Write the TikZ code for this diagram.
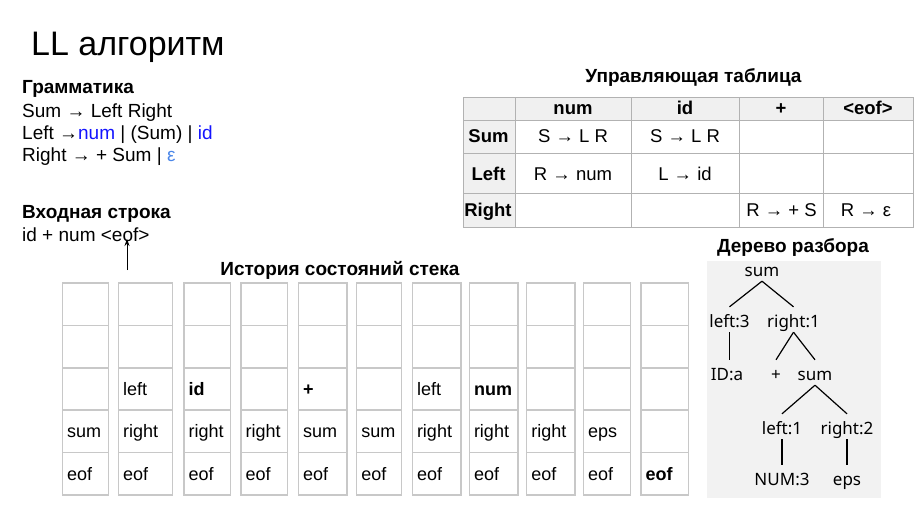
\documentclass[tikz,border=0pt]{standalone}
\usepackage{fontspec}
\setmainfont{Liberation Sans}
\newfontfamily\treefont{Noto Sans}
\usetikzlibrary{arrows.meta, positioning}
\definecolor{gramblue}{RGB}{20,20,255}
\definecolor{epsblue}{RGB}{74,134,232}
\definecolor{cellgray}{RGB}{240,240,240}
\definecolor{gridgray}{RGB}{178,178,178}
\definecolor{stackgray}{RGB}{200,200,200}
\definecolor{treebg}{RGB}{242,242,242}

\begin{document}
\begin{tikzpicture}[x=1pt, y=-1pt,
    txt/.style={anchor=base west, inner sep=0pt, font=\fontsize{19}{22}\selectfont},
    hdr/.style={anchor=base west, inner sep=0pt, font=\fontsize{19}{22}\selectfont\bfseries},
    ttl/.style={anchor=base, inner sep=0pt, font=\fontsize{19}{22}\selectfont\bfseries},
    tcell/.style={anchor=base, inner sep=0pt, font=\fontsize{18.5}{22}\selectfont},
    thead/.style={tcell, font=\fontsize{18.5}{22}\selectfont\bfseries},
    scell/.style={anchor=base west, inner sep=0pt, font=\fontsize{18}{22}\selectfont},
    tnode/.style={anchor=base, inner sep=0pt, text height=20pt, text depth=5pt, font=\treefont\fontsize{17}{20}\selectfont},
    tedge/.style={line width=1.2pt}]
\useasboundingbox (0,0) rectangle (921,506);

\node[anchor=base west, inner sep=0pt, font=\fontsize{34}{40}\selectfont] (title) at (31,55) {LL алгоритм};

\node[hdr] (gram) at (22,93) {Грамматика};
\node[txt] (rule1) at (22,117) {Sum → Left Right};
\node[txt] (rule2) at (22,139) {Left →\textcolor{gramblue}{num} | (Sum) | \textcolor{gramblue}{id}};
\node[txt] (rule3) at (22,161) {Right → + Sum | \textcolor{epsblue}{ε}};

\node[hdr] (inhdr) at (22,218) {Входная строка};
\node[txt] (input) at (22,241) {id + num <eof>};
\coordinate (ptrtail) at (127,270);
\coordinate (ptrhead) at (127,239);
\draw[line width=1pt, -{Stealth[length=7pt,width=5pt]}] (ptrtail) -- (ptrhead);

\node[ttl] (tabttl) at (693.5,82) {Управляющая таблица};
\fill[cellgray] (463,97) rectangle (913.5,120);
\fill[cellgray] (463,120) rectangle (515,227);
\foreach \x in {463,515,631,739,823,913.5}
    \draw[gridgray, line width=1pt] (\x,97) -- (\x,227);
\foreach \y in {97,120,153.5,193.5,227}
    \draw[gridgray, line width=1pt] (463,\y) -- (913.5,\y);
\node[thead] (hnum) at (573,114.5) {num};
\node[thead] (hid) at (685,114.5) {id};
\node[thead] (hplus) at (781,114.5) {+};
\node[thead] (heof) at (868,114.5) {<eof>};
\node[thead] (rsum) at (488.5,142.5) {Sum};
\node[thead] (rleft) at (488.5,180) {Left};
\node[thead] (rright) at (488,216.7) {Right};
\node[tcell] (sumnum) at (573,142.5) {S → L R};
\node[tcell] (sumid) at (685,142.5) {S → L R};
\node[tcell] (leftnum) at (573,180) {R → num};
\node[tcell] (leftid) at (685,180) {L → id};
\node[tcell] (rightplus) at (781.5,216.7) {R → + S};
\node[tcell] (righteof) at (866,216.7) {R → ε};

\node[ttl] (stackttl) at (340,275) {История состояний стека};
\foreach \xa/\xb/\ra/\rb/\rc [count=\i] in {
    62.3/108.3/{}/sum/eof,
    118.5/172.5/left/right/eof,
    184/230.7/{\textbf{id}}/right/eof,
    241/287.7/{}/right/eof,
    298.3/347/{\textbf{+}}/sum/eof,
    356.7/401.7/{}/sum/eof,
    412.3/461/left/right/eof,
    469.3/518/{\textbf{num}}/right/eof,
    526.7/575/{}/right/eof,
    583.3/630.7/{}/eps/eof,
    641/688.3/{}/{}/{\textbf{eof}}}{
    \draw[stackgray, line width=1.1pt] (\xa,283) rectangle (\xb,495);
    \foreach \y in {325.5,368,410,452.5}
        \draw[stackgray, line width=1.1pt] (\xa,\y) -- (\xb,\y);
    \node[scell] (s\i c) at (\xa+4.5,395.5) {\ra};
    \node[scell] (s\i d) at (\xa+4.5,437.5) {\rb};
    \node[scell] (s\i e) at (\xa+4.5,480) {\rc};
}

\node[ttl] (treettl) at (793,252.5) {Дерево разбора};
\fill[treebg] (707,261) rectangle (881,498);
\node[tnode] (sumA) at (762,276) {sum};
\node[tnode] (leftA) at (729.5,327) {left:3};
\node[tnode] (rightA) at (793.5,327) {right:1};
\node[tnode] (ida) at (727,380) {ID:a};
\node[tnode] (plus) at (776,380) {+};
\node[tnode] (sumB) at (815,380) {sum};
\node[tnode] (leftB) at (782,434) {left:1};
\node[tnode] (rightB) at (847,434) {right:2};
\node[tnode] (num3) at (782,485) {NUM:3};
\node[tnode] (eps) at (847,485) {eps};

\draw[tedge] (sumA.south) -- (leftA.north);
\draw[tedge] (sumA.south) -- (rightA.north);
\draw[tedge] (leftA.south) -- (leftA.south |- ida.north);
\draw[tedge] (rightA.south) -- (plus.north);
\draw[tedge] (rightA.south) -- (sumB.north);
\draw[tedge] (sumB.south) -- (leftB.north);
\draw[tedge] (sumB.south) -- (rightB.north);
\draw[tedge] (leftB.south) -- (num3.north);
\draw[tedge] (rightB.south) -- (eps.north);
\end{tikzpicture}
\end{document}
